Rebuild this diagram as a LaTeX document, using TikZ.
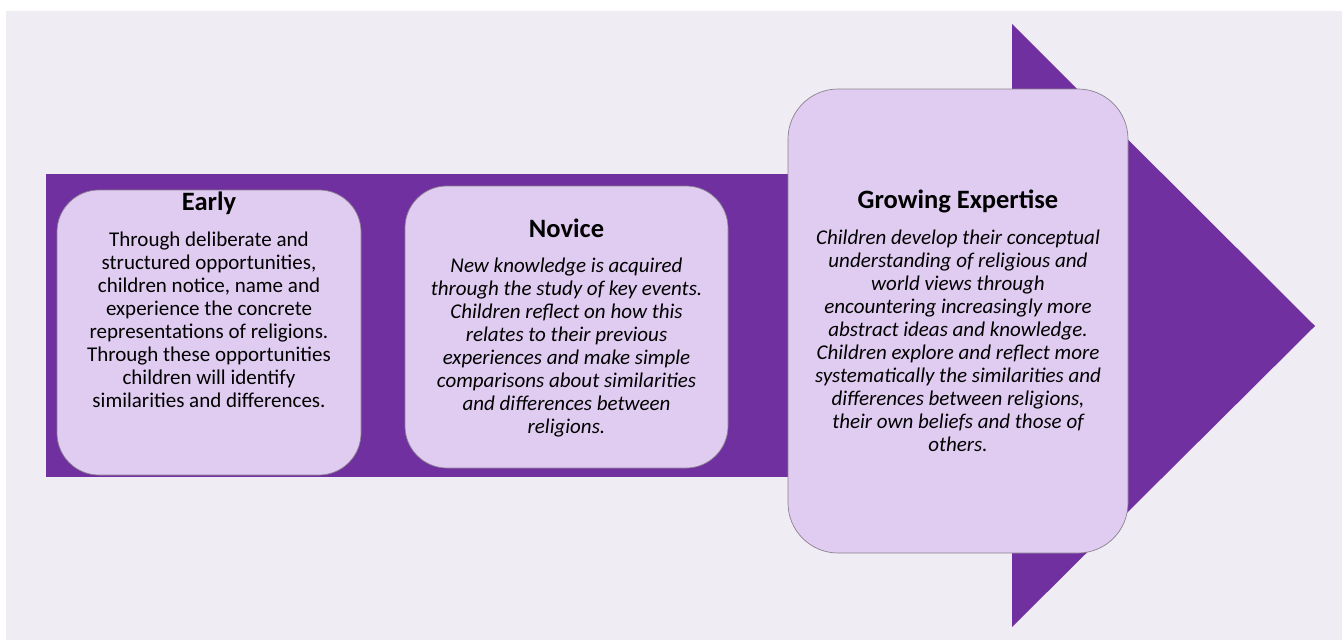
\documentclass[tikz,border=0pt]{standalone}
\usepackage{fontspec}
\setmainfont{Carlito}
\definecolor{bgpanel}{HTML}{EFECF4}
\definecolor{purp}{HTML}{7030A0}
\definecolor{boxfill}{HTML}{E0CCF0}
\definecolor{boxline}{HTML}{8A8290}
\begin{document}
\begin{tikzpicture}[x=1pt,y=-1pt,
  stagebox/.style={draw=boxline, line width=0.7pt, fill=boxfill, rounded corners=42pt, inner sep=0pt},
  titletext/.style={font=\fontsize{26.5}{30}\selectfont\bfseries, inner sep=0pt, anchor=base},
  bodytext/.style={font=\fontsize{21}{23.1}\selectfont, align=center, inner sep=0pt, anchor=base},
  bodyit/.style={bodytext, font=\fontsize{21}{23.1}\selectfont\itshape}]
\useasboundingbox (0,0) rectangle (1342,640);
\fill[white] (0,0) rectangle (1342,640);
\fill[bgpanel] (6,11) rectangle (1342,640);
% arrow
\fill[purp] (46,174) rectangle (1013,477);
\fill[purp] (1012,24) -- (1315,326) -- (1012,627) -- cycle;
% boxes
\node[stagebox, minimum width=304, minimum height=285] (early) at (209,332.5) {};
\node[stagebox, minimum width=323, minimum height=282] (novice) at (566.5,327) {};
\node[stagebox, minimum width=340, minimum height=464, rounded corners=50pt] (growing) at (958,321) {};
% texts (base anchor = baseline of last line)
\node[titletext] (earlyT) at (209,210) {Early};
\node[bodytext] (earlyB) at (209,407.7) {Through deliberate and\\structured opportunities,\\children notice, name and\\experience the concrete\\representations of religions.\\Through these opportunities\\children will identify\\similarities and differences.};
\node[titletext] (noviceT) at (566.5,237) {Novice};
\node[bodyit] (noviceB) at (566.5,433.7) {New knowledge is acquired\\through the study of key events.\\Children reflect on how this\\relates to their previous\\experiences and make simple\\comparisons about similarities\\and differences between\\religions.};
\node[titletext] (growingT) at (958,208) {Growing Expertise};
\node[bodyit] (growingB) at (958,451.9) {Children develop their conceptual\\understanding of religious and\\world views through\\encountering increasingly more\\abstract ideas and knowledge.\\Children explore and reflect more\\systematically the similarities and\\differences between religions,\\their own beliefs and those of\\others.};
\end{tikzpicture}
\end{document}
